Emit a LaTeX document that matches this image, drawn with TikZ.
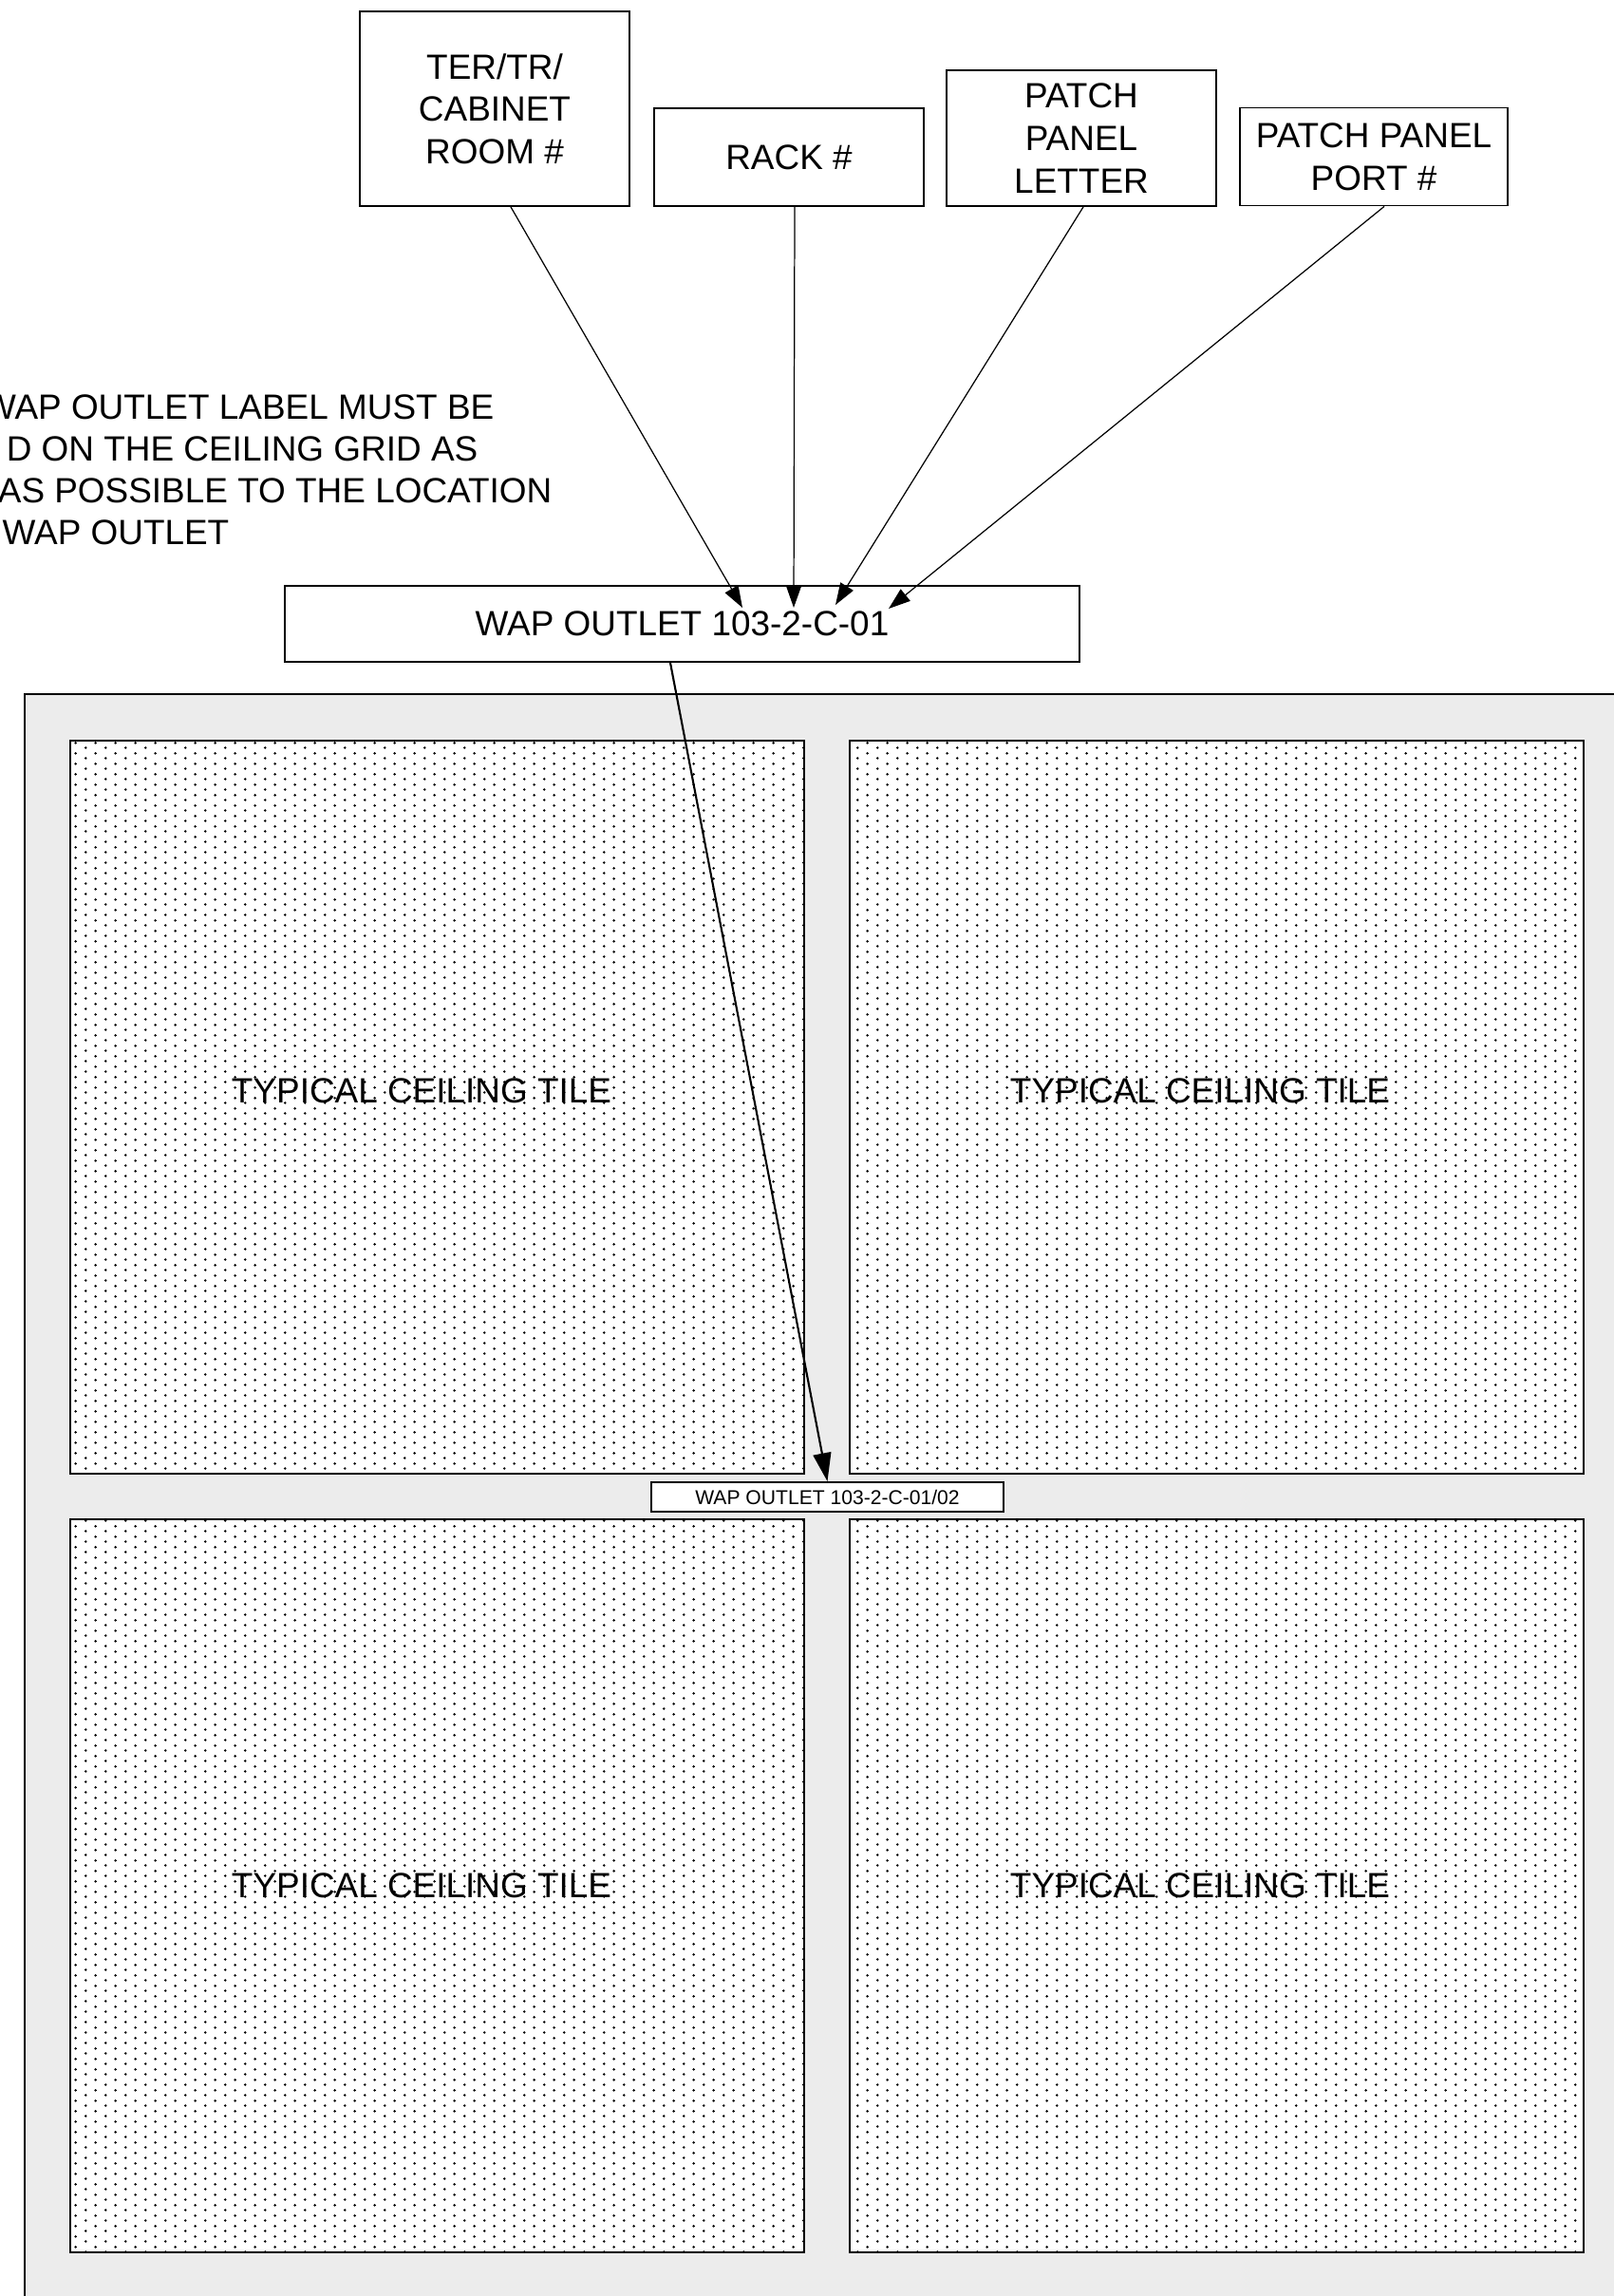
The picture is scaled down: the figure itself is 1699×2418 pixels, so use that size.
\documentclass[tikz,border=0pt]{standalone}
\usepackage{fontspec}
\setmainfont{Liberation Sans}
\usetikzlibrary{arrows.meta,patterns.meta}

% dotted ceiling tile fill
\tikzdeclarepattern{
  name=ceildots,
  type=uncolored,
  bottom left={(0cm,0cm)},
  top right={(0.214cm,0.11cm)},
  tile size={(0.214cm,0.11cm)},
  code={
    \fill (0.0535cm,0.0275cm) circle [radius=0.015cm];
    \fill (0.1605cm,0.0825cm) circle [radius=0.015cm];
  }
}

\newcommand{\labelfont}{\fontsize{10.5}{12.7}\selectfont}
\newcommand{\tagfont}{\fontsize{6}{7.2}\selectfont}

\begin{document}
\begin{tikzpicture}[x=0.01cm, y=-0.01cm,
    every node/.style={font=\labelfont, inner sep=0pt},
    idbox/.style={draw, line width=0.5pt, align=center},
    tile/.style={line width=0.7pt, preaction={fill=white}, pattern=ceildots, pattern color=black},
    pointer/.style={line width=0.35pt, -{Triangle[length=6.5pt,width=4.5pt]}}]

    \useasboundingbox (0,0) rectangle (1699,2418);

    % =================================================================
    % PART 1: CEILING GRID WITH FOUR TILES
    % =================================================================
    \draw[line width=0.7pt, fill=gray!15] (26,731) rectangle (1730,2450);

    % Tiles (left, right / top, bottom)
    \foreach \tx/\ty in {74/780, 895/780, 74/1600, 895/1600} {
        \draw[tile] (\tx,\ty) rectangle ++(773,772);
    }
    \node (tilenw) at (444,1149) {TYPICAL CEILING TILE};
    \node (tilene) at (1264,1149) {TYPICAL CEILING TILE};
    \node (tilesw) at (444,1986) {TYPICAL CEILING TILE};
    \node (tilese) at (1264,1986) {TYPICAL CEILING TILE};

    % Label placed on the grid
    \node[idbox, fill=white, font=\tagfont, minimum width=3.71cm, minimum height=0.31cm]
        (outlet) at (871.5,1576.5) {WAP OUTLET 103-2-C-01/02};

    % =================================================================
    % PART 2: LABEL FIELDS ABOVE
    % =================================================================
    \node[idbox, minimum width=2.84cm, minimum height=2.05cm] (room) at (521,114.5) {TER/TR/\\CABINET\\ROOM \#};
    \node[idbox, minimum width=2.84cm, minimum height=1.03cm] (rack) at (831,165.5) {RACK \#};
    \node[idbox, minimum width=2.84cm, minimum height=1.43cm] (letter) at (1139,145.5) {PATCH\\PANEL\\LETTER};
    \node[idbox, minimum width=2.82cm, minimum height=1.03cm] (port) at (1447,165) {PATCH PANEL\\PORT \#};

    \node[idbox, minimum width=8.37cm, minimum height=0.80cm] (wap) at (718.5,657) {WAP OUTLET 103-2-C-01};

    % Note (cut off at the left edge)
    \node[anchor=base east] (note1) at (521,441) {WAP OUTLET LABEL MUST BE};
    \node[anchor=base east] (note2) at (504,485) {D ON THE CEILING GRID AS};
    \node[anchor=base east] (note3) at (582,529) {AS POSSIBLE TO THE LOCATION};
    \node[anchor=base east] (note4) at (242,573) {WAP OUTLET};

    % Arrow ends on the label text
    \coordinate (pin1) at (782,640);
    \coordinate (pin2) at (836,640);
    \coordinate (pin3) at (880,637);
    \coordinate (pin4) at (936,641);

    \draw[pointer] ([xshift=0.17cm]room.south) -- (pin1);
    \draw[pointer] ([xshift=0.06cm]rack.south) -- (pin2);
    \draw[pointer] ([xshift=0.02cm]letter.south) -- (pin3);
    \draw[pointer] ([xshift=0.11cm]port.south) -- (pin4);

    % From the label to its place on the grid
    \draw[line width=0.6pt, -{Triangle[length=8.5pt,width=5.4pt]}] ([xshift=-0.125cm]wap.south) -- (outlet.north);

\end{tikzpicture}
\end{document}
